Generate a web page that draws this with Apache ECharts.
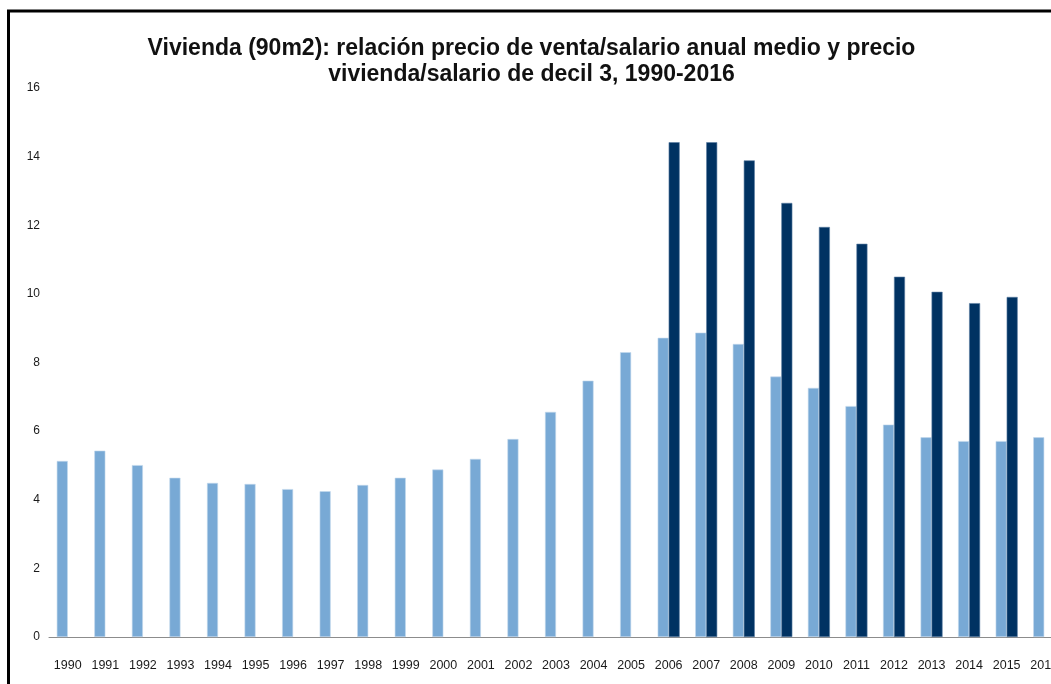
<!DOCTYPE html>
<html>
<head>
<meta charset="utf-8">
<script src="https://cdn.jsdelivr.net/npm/echarts@6/dist/echarts.min.js"></script>
<style>
    html, body { margin: 0; padding: 0; background: #fff; overflow: hidden; }
    #chart { width: 1063px; height: 684px; }
</style>
</head>
<body>
<div id="chart"></div>
<script>
var years = ['1990', '1991', '1992', '1993', '1994', '1995', '1996', '1997', '1998', '1999',
    '2000', '2001', '2002', '2003', '2004', '2005', '2006', '2007', '2008', '2009',
    '2010', '2011', '2012', '2013', '2014', '2015', '2016'];
// precio vivienda / salario anual medio
var ratioMedio = [5.13, 5.43, 5.01, 4.64, 4.49, 4.46, 4.31, 4.25, 4.43, 4.64,
    4.88, 5.19, 5.77, 6.56, 7.47, 8.30, 8.72, 8.87, 8.54, 7.59,
    7.26, 6.73, 6.19, 5.82, 5.71, 5.71, 5.82];
// precio vivienda / salario decil 3
var ratioDecil3 = [null, null, null, null, null, null, null, null, null, null,
    null, null, null, null, null, null, 14.42, 14.42, 13.89, 12.65,
    11.95, 11.46, 10.50, 10.06, 9.73, 9.91, null];
var yTicks = [0, 2, 4, 6, 8, 10, 12, 14, 16];

(function () {
    var myChart = echarts.init(document.getElementById('chart'));
    var option = {
        backgroundColor: '#fff',
        animation: false,
        title: {
            text: 'Vivienda (90m2): relación precio de venta/salario anual medio y precio\nvivienda/salario de decil 3, 1990-2016',
            left: 'center',
            top: 36,
            padding: [0, 0, 0, 8],
            textStyle: {
                fontFamily: 'Liberation Sans, Arial, sans-serif',
                fontSize: 23,
                fontWeight: 'bold',
                color: '#111',
                lineHeight: 26
            }
        },
        grid: {
            left: 49,
            right: 0,
            top: 88,
            bottom: 47,
            containLabel: false
        },
        xAxis: {
            type: 'category',
            data: years,
            axisTick: { show: false },
            axisLine: { lineStyle: { color: '#8c8c8c', width: 1 } },
            axisLabel: {
                interval: 0,
                margin: 22,
                color: '#1a1a1a',
                fontSize: 12.5,
                fontFamily: 'Liberation Sans, Arial, sans-serif'
            }
        },
        yAxis: {
            type: 'value',
            min: yTicks[0],
            max: yTicks[yTicks.length - 1],
            interval: 2,
            axisLine: { show: false },
            axisTick: { show: false },
            splitLine: { show: false },
            axisLabel: {
                margin: 9,
                color: '#1a1a1a',
                fontSize: 12,
                fontFamily: 'Liberation Sans, Arial, sans-serif'
            }
        },
        series: [
            {
                name: 'Salario medio',
                type: 'bar',
                barWidth: 11,
                barGap: '0%',
                itemStyle: { color: '#78a9d5', borderColor: '#c3d8ec', borderWidth: 0.6 },
                data: ratioMedio
            },
            {
                name: 'Salario decil 3',
                type: 'bar',
                barWidth: 11,
                barGap: '0%',
                itemStyle: { color: '#003262', borderColor: '#5a7ea3', borderWidth: 0.6 },
                data: ratioDecil3
            }
        ],
        graphic: [
            {
                type: 'line',
                shape: { x1: 7, y1: 11, x2: 1063, y2: 11 },
                style: { stroke: '#000', lineWidth: 3 }
            },
            {
                type: 'line',
                shape: { x1: 8.5, y1: 10, x2: 8.5, y2: 684 },
                style: { stroke: '#000', lineWidth: 3 }
            }
        ]
    };
    myChart.setOption(option);
})();
</script>
</body>
</html>
